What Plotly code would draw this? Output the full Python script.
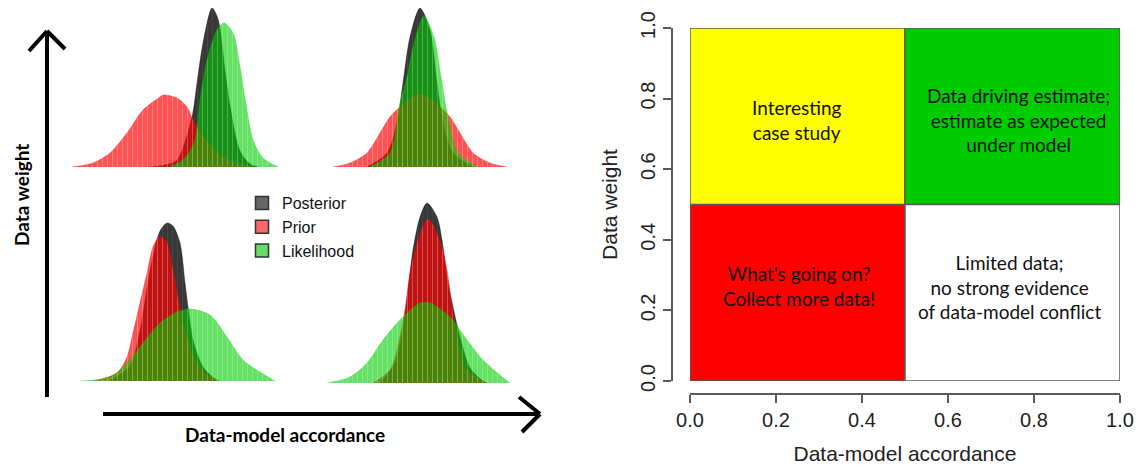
import plotly.graph_objects as go

OFF = 0
W, H = 1138, 465

# ---------------- Left: four schematic density panels ----------------
# x: position along the panel (arbitrary units), y: density (arbitrary units)
tl_prior_x = [12, 33, 50, 67, 83, 100, 103, 117, 127, 133, 145, 160, 175, 194]
tl_prior_y = [0, 4, 14, 34, 57, 70, 72, 69, 60, 47, 28, 12, 4, 0]
tl_post_x = [90, 105, 117, 132, 137, 143, 152, 158, 165, 170, 180, 190, 198]
tl_post_y = [0, 2, 7, 50, 84, 124, 159, 148, 97, 61, 16, 3, 0]
tl_like_x = [110, 125, 135, 140, 147, 157, 164, 173, 180, 187, 193, 203, 218]
tl_like_y = [0, 9, 27, 67, 107, 137, 144, 134, 100, 57, 27, 9, 0]

tr_prior_x = [33, 50, 67, 80, 90, 100, 120, 140, 150, 160, 173, 190, 207]
tr_prior_y = [0, 4, 14, 34, 50, 60, 73, 60, 50, 34, 14, 4, 0]
tr_post_x = [67, 87, 97, 103, 110, 120, 130, 137, 143, 153, 173]
tr_post_y = [0, 14, 44, 84, 130, 159, 137, 84, 44, 14, 0]
tr_like_x = [70, 90, 100, 107, 114, 124, 134, 141, 148, 158, 178]
tr_like_y = [0, 14, 64, 90, 124, 151, 130, 90, 50, 14, 0]

bl_prior_x = [33, 57, 67, 73, 80, 87, 93, 100, 107, 113, 118, 123, 133, 145, 160]
bl_prior_y = [0, 8, 24, 48, 78, 108, 134, 145, 138, 111, 84, 58, 25, 8, 0]
bl_post_x = [50, 70, 80, 90, 100, 107, 113, 120, 125, 128, 133, 143, 157]
bl_post_y = [0, 15, 50, 110, 150, 158, 155, 138, 98, 74, 41, 14, 0]
bl_like_x = [20, 50, 67, 83, 100, 117, 130, 150, 167, 183, 200, 210, 215]
bl_like_y = [0, 4, 18, 38, 58, 69, 72, 66, 44, 21, 9, 3, 0]

br_prior_x = [73, 90, 97, 105, 110, 117, 128, 140, 147, 152, 160, 167, 187]
br_prior_y = [0, 13, 33, 73, 110, 140, 164, 142, 113, 76, 33, 13, 0]
br_post_x = [80, 95, 103, 108, 113, 120, 127, 137, 142, 147, 153, 160, 170, 185]
br_post_y = [0, 20, 55, 93, 133, 166, 180, 166, 143, 106, 76, 46, 15, 0]
br_like_x = [27, 50, 67, 83, 100, 120, 130, 150, 167, 183, 200, 210]
br_like_y = [0, 6, 20, 43, 63, 80, 80, 66, 43, 23, 8, 0]

series_names = ["Posterior", "Prior", "Likelihood"]

# ---------------- Right: decision quadrants ----------------
quad_x0 = [0.0, 0.0, 0.5, 0.5]
quad_x1 = [0.5, 0.5, 1.0, 1.0]
quad_y0 = [0.0, 0.5, 0.5, 0.0]
quad_y1 = [0.5, 1.0, 1.0, 0.5]
quad_labels = [
    "What's going on?<br>Collect more data!",
    "Interesting<br>case study",
    "Data driving estimate;<br>estimate as expected<br>under model",
    "Limited data;<br>no strong evidence<br>of data-model conflict",
]
tick_vals = [0.0, 0.2, 0.4, 0.6, 0.8, 1.0]

# ---------------- styles ----------------
fill_cols = {"Posterior": "rgba(0,0,0,0.78)",
             "Prior": "rgba(255,0,0,0.68)",
             "Likelihood": "rgba(0,205,0,0.6)"}
stripe_cols = {"Posterior": "rgba(120,120,120,0.5)",
               "Prior": "rgba(255,255,255,0.55)",
               "Likelihood": "rgba(255,255,255,0.45)"}
legend_cols = {"Posterior": "#666666", "Prior": "#ff6666", "Likelihood": "#66dd66"}
quad_cols = ["#ff0000", "#ffff00", "#00cc00", "#ffffff"]
quad_dx = [0.003, -0.001, 0.015, -0.008]
quad_dy = [0.02, -0.012, -0.011, 0.016]


def px(x):
    return (x - OFF) / W


def py(y):
    return 1 - (y - OFF) / H


fig = go.Figure()

panels = [
    ("x3", "y3", [(tl_post_x, tl_post_y), (tl_prior_x, tl_prior_y), (tl_like_x, tl_like_y)]),
    ("x4", "y4", [(tr_post_x, tr_post_y), (tr_prior_x, tr_prior_y), (tr_like_x, tr_like_y)]),
    ("x5", "y5", [(bl_post_x, bl_post_y), (bl_prior_x, bl_prior_y), (bl_like_x, bl_like_y)]),
    ("x6", "y6", [(br_post_x, br_post_y), (br_prior_x, br_prior_y), (br_like_x, br_like_y)]),
]
for xa, ya, curves in panels:
    for name, (xs, ys) in zip(series_names, curves):
        fig.add_trace(go.Scatter(
            x=xs, y=ys, xaxis=xa, yaxis=ya, mode="lines",
            line=dict(width=0.5, color=fill_cols[name], shape="spline", smoothing=0.8),
            fill="tozeroy", fillcolor=fill_cols[name],
            fillpattern=dict(shape="|", fgcolor=stripe_cols[name], bgcolor=fill_cols[name],
                             size=5, solidity=0.18),
            showlegend=False, hoverinfo="skip"))

# legend entries
for name in series_names:
    fig.add_trace(go.Scatter(
        x=[None], y=[None], xaxis="x3", yaxis="y3", mode="markers", name=name,
        marker=dict(symbol="square", size=13, color=legend_cols[name],
                    line=dict(color="#333333", width=1.5)),
        showlegend=True))

# quadrants
for i in range(4):
    fig.add_trace(go.Scatter(
        x=[quad_x0[i], quad_x1[i], quad_x1[i], quad_x0[i], quad_x0[i]],
        y=[quad_y0[i], quad_y0[i], quad_y1[i], quad_y1[i], quad_y0[i]],
        xaxis="x2", yaxis="y2", mode="lines", fill="toself",
        fillcolor=quad_cols[i], line=dict(color="#5a5a5a", width=1.5),
        showlegend=False, hoverinfo="skip"))
    fig.add_annotation(
        x=(quad_x0[i] + quad_x1[i]) / 2 + quad_dx[i],
        y=(quad_y0[i] + quad_y1[i]) / 2 + quad_dy[i],
        xref="x2", yref="y2", text=quad_labels[i], showarrow=False,
        xanchor="center", yanchor="middle",
        font=dict(family="Lato", size=19, color="#111111"), align="center")

hidden = dict(visible=False, fixedrange=True, automargin=False)
layout_axes = dict(
    xaxis3=dict(domain=[px(60), px(290)], range=[0, 230], anchor="y3", **hidden),
    yaxis3=dict(domain=[py(167), py(8)], range=[0, 159], anchor="x3", **hidden),
    xaxis4=dict(domain=[px(300), px(530)], range=[0, 230], anchor="y4", **hidden),
    yaxis4=dict(domain=[py(167), py(8)], range=[0, 159], anchor="x4", **hidden),
    xaxis5=dict(domain=[px(60), px(290)], range=[0, 230], anchor="y5", **hidden),
    yaxis5=dict(domain=[py(381), py(191)], range=[0, 190], anchor="x5", **hidden),
    xaxis6=dict(domain=[px(300), px(530)], range=[0, 230], anchor="y6", **hidden),
    yaxis6=dict(domain=[py(383), py(193)], range=[0, 190], anchor="x6", **hidden),
)

axis_font = dict(family="Liberation Sans", size=20, color="#222222")
fig.update_layout(
    width=W, height=H, margin=dict(l=0, r=0, t=0, b=0, pad=0, autoexpand=False),
    paper_bgcolor="white", plot_bgcolor="rgba(0,0,0,0)",
    xaxis=dict(visible=False, automargin=False), yaxis=dict(visible=False, automargin=False),
    xaxis2=dict(domain=[px(690), px(1120)], range=[0, 1], anchor="free", automargin=False,
                position=py(394), showline=True, linecolor="#5a5a5a", linewidth=1.5,
                ticks="outside", ticklen=8, tickwidth=1.5, tickcolor="#5a5a5a",
                tickvals=tick_vals, tickformat=".1f", tickfont=axis_font,
                showgrid=False, zeroline=False,
                title=dict(text="Data-model accordance", font=dict(family="Liberation Sans", size=21, color="#222222"), standoff=17)),
    yaxis2=dict(domain=[py(381), py(28)], range=[0, 1], anchor="free", automargin=False,
                position=px(672), showline=True, linecolor="#5a5a5a", linewidth=1.5,
                ticks="outside", ticklen=8, tickwidth=1.5, tickcolor="#5a5a5a",
                tickvals=tick_vals, tickformat=".1f", tickfont=axis_font, tickangle=-90,
                showgrid=False, zeroline=False,
                title=dict(text="Data weight", font=dict(family="Liberation Sans", size=21, color="#222222"), standoff=13)),
    legend=dict(x=px(242), y=py(186), xanchor="left", yanchor="top",
                bgcolor="rgba(0,0,0,0)", font=dict(family="Liberation Sans", size=16, color="#111111"),
                itemwidth=30, tracegroupgap=0),
    **layout_axes,
)

# Arrows (decorative, in paper space)
arrow_line = dict(color="black", width=4)
segs = [
    ((47, 397), (47, 31)), ((47, 31), (29, 51)), ((47, 31), (65, 49)),
    ((103, 414), (540, 414)), ((540, 414), (519, 397)), ((540, 414), (522, 432)),
]
for (xa, ya), (xb, yb) in segs:
    fig.add_shape(type="line", xref="paper", yref="paper",
                  x0=px(xa), y0=py(ya), x1=px(xb), y1=py(yb), line=arrow_line)

fig.add_annotation(x=px(21), y=py(195), xref="paper", yref="paper", text="<b>Data weight</b>",
                   textangle=-90, showarrow=False, xanchor="center", yanchor="middle",
                   font=dict(family="Lato", size=19, color="black"))
fig.add_annotation(x=px(285), y=py(434), xref="paper", yref="paper",
                   text="<b>Data-model accordance</b>", showarrow=False,
                   xanchor="center", yanchor="middle",
                   font=dict(family="Lato", size=19, color="black"))

# remove the default page margin so the 1138x465 figure fills the window exactly
fig.write_html("out.html",
               config={"displayModeBar": False},
               post_script="document.body.style.margin='0';document.body.style.overflow='hidden';")
